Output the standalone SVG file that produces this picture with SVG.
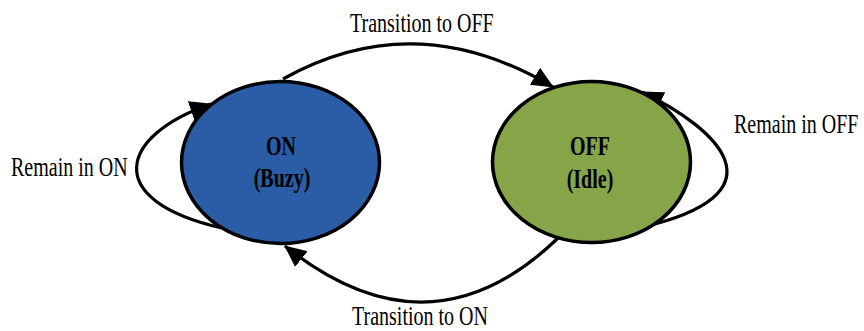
<svg xmlns="http://www.w3.org/2000/svg" width="864" height="331" viewBox="0 0 864 331">
<style>
.lbl{font-family:"Liberation Serif","Times New Roman",serif;font-size:20px;fill:#000}
.st{font-family:"Liberation Serif","Times New Roman",serif;font-size:20px;font-weight:bold;fill:#000;text-anchor:middle}
.edge{fill:none;stroke:#000;stroke-width:3.2}
.node{stroke:#000;stroke-width:3.5}
</style>
<defs>
<marker id="ah" markerUnits="userSpaceOnUse" viewBox="0 0 22 22" markerWidth="22" markerHeight="22" refX="21" refY="11" orient="auto">
<path d="M0,1 L22,11 L0,21 z" fill="#000"/>
</marker>
</defs>
<g id="connectors">
<path class="edge" d="M283,79 Q415,5 553,87" marker-end="url(#ah)"/>
<path class="edge" d="M558,238 Q430,362 285,246" marker-end="url(#ah)"/>
<path class="edge" d="M222,228 C100,200 120,135 211,104" marker-end="url(#ah)"/>
<path class="edge" d="M655,224 C780,190 720,130 642,92" marker-end="url(#ah)"/>
</g>
<g id="node-on">
<ellipse class="node" cx="280.5" cy="162.5" rx="99" ry="81" fill="#2A5DA6"/>
<text class="st" transform="translate(281,155) scale(1,1.35)">ON</text>
<text class="st" transform="translate(282,187) scale(1,1.35)">(Buzy)</text>
</g>
<g id="node-off">
<ellipse class="node" cx="591.5" cy="162" rx="99" ry="80.5" fill="#85A548"/>
<text class="st" transform="translate(590,155) scale(1,1.35)">OFF</text>
<text class="st" transform="translate(590,188) scale(1,1.35)">(Idle)</text>
</g>
<g id="labels">
<text class="lbl" transform="translate(350,32) scale(1,1.4)">Transition to OFF</text>
<text class="lbl" transform="translate(352,325) scale(1,1.4)">Transition to ON</text>
<text class="lbl" transform="translate(11,176) scale(1,1.4)">Remain in ON</text>
<text class="lbl" transform="translate(734,133) scale(1,1.4)">Remain in OFF</text>
</g>
</svg>
